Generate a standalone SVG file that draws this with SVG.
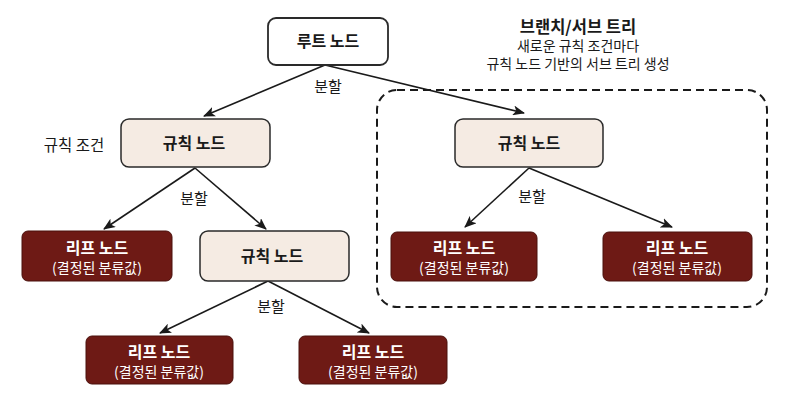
<svg xmlns="http://www.w3.org/2000/svg" width="791" height="405" viewBox="0 0 791 405">
<defs>
<marker id="arr" viewBox="0 0 12 10" refX="11" refY="5" markerWidth="12" markerHeight="10" markerUnits="userSpaceOnUse" orient="auto">
<path d="M0,0 L12,5 L0,10 L3,5 z" fill="#1a1a1a"/>
</marker>
<style>
text{font-family:"Noto Sans CJK KR","Noto Sans",sans-serif;text-anchor:middle;fill:#1a1a1a}
.rule rect{fill:#f5ebe3;stroke:#2a2a2a;stroke-width:1.5}
.root rect{fill:#ffffff;stroke:#2a2a2a;stroke-width:1.8}
.leaf rect{fill:#6e1a15;stroke:#4a100c;stroke-width:1}
.lbl{font-size:16px;font-weight:bold}
.leaf text{fill:#ffffff}
.sub{font-size:14px}
.edge{font-size:15px}
.conn line{stroke:#1a1a1a;stroke-width:1.6;marker-end:url(#arr)}
</style>
</defs>
<rect width="791" height="405" fill="#ffffff"/>

<g id="subtree-box">
<rect x="377" y="90" width="390" height="217" rx="20" ry="20" fill="none" stroke="#1a1a1a" stroke-width="2" stroke-dasharray="8,5"/>
</g>

<g id="title">
<text x="578" y="33" style="font-size:16.5px;font-weight:bold">브랜치/서브 트리</text>
<text x="578" y="51" style="font-size:14px">새로운 규칙 조건마다</text>
<text x="578" y="69" style="font-size:14px">규칙 노드 기반의 서브 트리 생성</text>
</g>

<g id="connectors" class="conn">
<line x1="325" y1="65" x2="204" y2="116"/>
<line x1="325" y1="65" x2="524" y2="113"/>
<line x1="195" y1="168" x2="104" y2="229"/>
<line x1="195" y1="168" x2="266" y2="229"/>
<line x1="268" y1="281" x2="160" y2="333"/>
<line x1="268" y1="281" x2="369" y2="333"/>
<line x1="529" y1="168" x2="465" y2="227"/>
<line x1="529" y1="168" x2="672" y2="227"/>
</g>

<g id="edge-labels">
<text class="edge" x="328" y="92">분할</text>
<text class="edge" x="194" y="204">분할</text>
<text class="edge" x="271" y="312">분할</text>
<text class="edge" x="532" y="202">분할</text>
<text style="font-size:15.5px" x="74" y="151">규칙 조건</text>
</g>

<g id="root" class="root">
<rect x="268" y="18" width="120" height="47" rx="8"/>
<text class="lbl" x="328" y="47">루트 노드</text>
</g>

<g id="rule1" class="rule">
<rect x="121" y="119" width="149" height="48" rx="8"/>
<text class="lbl" x="194" y="149">규칙 노드</text>
</g>

<g id="rule2" class="rule">
<rect x="200" y="231" width="149" height="50" rx="8"/>
<text class="lbl" x="272" y="262">규칙 노드</text>
</g>

<g id="rule3" class="rule">
<rect x="455" y="119" width="148" height="48" rx="8"/>
<text class="lbl" x="529" y="149">규칙 노드</text>
</g>

<g id="leaf1" class="leaf">
<rect x="22" y="231" width="150" height="50" rx="6"/>
<text class="lbl" x="97" y="254">리프 노드</text>
<text class="sub" x="97" y="273">(결정된 분류값)</text>
</g>

<g id="leaf2" class="leaf">
<rect x="86" y="336" width="147" height="48" rx="6"/>
<text class="lbl" x="159" y="358">리프 노드</text>
<text class="sub" x="159" y="377">(결정된 분류값)</text>
</g>

<g id="leaf3" class="leaf">
<rect x="299" y="336" width="148" height="48" rx="6"/>
<text class="lbl" x="373" y="358">리프 노드</text>
<text class="sub" x="373" y="377">(결정된 분류값)</text>
</g>

<g id="leaf4" class="leaf">
<rect x="391" y="232" width="146" height="49" rx="6"/>
<text class="lbl" x="464" y="254">리프 노드</text>
<text class="sub" x="464" y="273">(결정된 분류값)</text>
</g>

<g id="leaf5" class="leaf">
<rect x="603" y="232" width="149" height="49" rx="6"/>
<text class="lbl" x="677" y="254">리프 노드</text>
<text class="sub" x="677" y="273">(결정된 분류값)</text>
</g>
</svg>
